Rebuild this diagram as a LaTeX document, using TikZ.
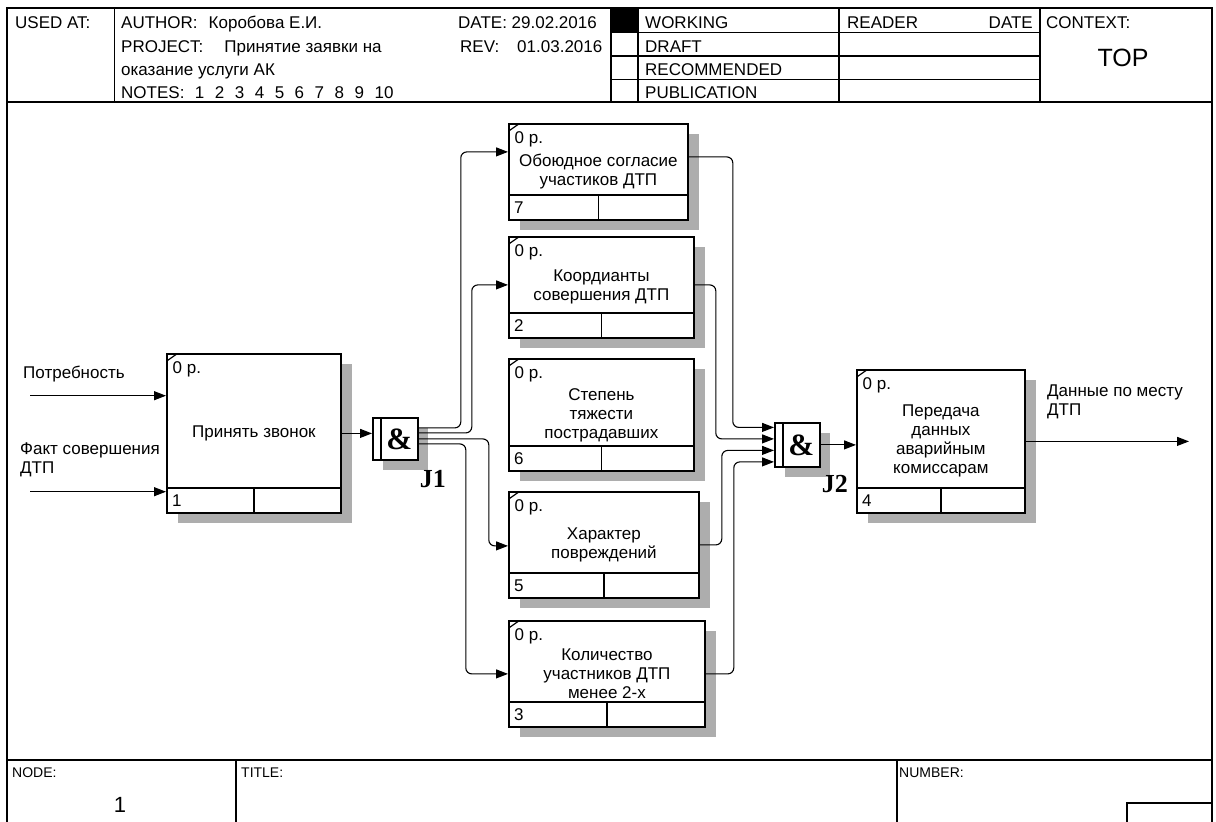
\documentclass[tikz,border=0pt]{standalone}
\usepackage{fontspec}
\setmainfont{Liberation Sans}
\newfontfamily\jfont{Liberation Serif}
\usetikzlibrary{arrows.meta,shadows}
\newcommand\boxtxt{\fontsize{17}{19}\selectfont}
\newcommand\ftrtxt{\fontsize{14}{16}\selectfont}

\begin{document}
\begin{tikzpicture}[
        x=1pt, y=-1pt,
        every node/.style={font=\boxtxt, inner sep=0pt},
        frame/.style={line width=1.3pt},
        hdr/.style={anchor=base west},
        ftr/.style={anchor=base west, font=\ftrtxt},
        act/.style={draw, line width=1.8pt, fill=white, anchor=north west, align=center,
            general shadow={fill=black!32, shadow xshift=11pt, shadow yshift=-10pt},
            path picture={
                \draw[line width=1.4pt] ([yshift=25pt]path picture bounding box.south west) -- ([yshift=25pt]path picture bounding box.south east)
                    ([yshift=25pt]path picture bounding box.south) -- (path picture bounding box.south);
                \draw[line width=1.2pt] ([yshift=-7pt]path picture bounding box.north west) -- ([xshift=10pt]path picture bounding box.north west);
            },
            label={[anchor=base west, xshift=6.5pt, yshift=-20pt]north west:0 р.},
            label={[anchor=base west, xshift=6pt, yshift=7pt]south west:#1}},
        junc/.style={draw, line width=1.8pt, fill=white, anchor=north west, minimum width=45pt,
            font=\jfont\bfseries\fontsize{31}{31}\selectfont,
            general shadow={fill=black!32, shadow xshift=10pt, shadow yshift=-10pt},
            path picture={\draw[line width=1.4pt] ([xshift=8pt]path picture bounding box.north west) -- ([xshift=8pt]path picture bounding box.south west);}},
        jname/.style={font=\jfont\bfseries\fontsize{26}{26}\selectfont},
        flow/.style={line width=1.1pt, rounded corners=6pt, -{Triangle[length=12pt,width=9pt]}}
    ]
    \useasboundingbox (0,0) rectangle (1216,822);

    % Frame
    \draw[frame] (7,822) -- (7,8) -- (1212,8) -- (1212,822);
    \draw[frame] (7,102) -- (1212,102);
    \draw[frame] (114.7,8) -- (114.7,102);
    \draw[frame] (611,8) -- (611,102);
    \draw[frame] (638,8) -- (638,102);
    \draw[frame] (839,8) -- (839,102);
    \draw[frame] (1040,8) -- (1040,102);
    \draw[frame] (611,32.3) -- (1040,32.3);
    \draw[frame] (611,56) -- (1040,56);
    \draw[frame] (611,79.3) -- (1040,79.3);
    \fill (611,8) rectangle (638,32.3);
    \draw[frame] (7,760) -- (1212,760);
    \draw[frame] (236,760) -- (236,822);
    \draw[frame] (897,760) -- (897,822);
    \draw[frame] (1127,822) -- (1127,803) -- (1212,803);

    % Header
    \node[hdr] (usedat) at (15,28) {USED AT:};
    \node[hdr] (author) at (121,28) {AUTHOR:\hspace{11pt}Коробова Е.И.};
    \node[hdr] (project) at (121,52) {PROJECT:\hspace{21pt}Принятие заявки на};
    \node[hdr] (project2) at (121,75) {оказание услуги АК};
    \node[hdr] (notes) at (121,98) {{\spaceskip=10.5pt NOTES: 1 2 3 4 5 6 7 8 9 10}};
    \node[hdr] (date) at (458,28) {DATE: 29.02.2016};
    \node[hdr] (rev) at (460,52) {REV:\hspace{18pt}01.03.2016};
    \node[hdr] (working) at (645,28) {WORKING};
    \node[hdr] (draft) at (645,52) {DRAFT};
    \node[hdr] (recommended) at (645,75) {RECOMMENDED};
    \node[hdr] (publication) at (645,98) {PUBLICATION};
    \node[hdr] (reader) at (847,28) {READER};
    \node[anchor=base east] (rdate) at (1033,28) {DATE};
    \node[hdr] (context) at (1046,28) {CONTEXT:};
    \node[anchor=base, font=\fontsize{25}{25}\selectfont] (top) at (1123,66) {TOP};

    % Footer
    \node[ftr] (nodelbl) at (12,777) {NODE:};
    \node[anchor=base, font=\fontsize{22}{22}\selectfont] (nodenum) at (120,812) {1};
    \node[ftr] (titlelbl) at (241,777) {TITLE:};
    \node[ftr] (numberlbl) at (899,777) {NUMBER:};

    % Nodes
    \node[act=1, minimum width=174pt, minimum height=159pt] (b1) at (166,353) {Принять звонок};
    \node[act=7, minimum width=179pt, minimum height=96pt] (b7) at (508,123) {Обоюдное согласие\\участиков ДТП};
    \node[act=2, minimum width=185pt, minimum height=101pt] (b2) at (508,236) {Коордианты\\совершения ДТП};
    \node[act=6, minimum width=185pt, minimum height=112pt] (b6) at (508,358) {Степень\\тяжести\\пострадавших};
    \node[act=5, minimum width=190pt, minimum height=106pt] (b5) at (508,491) {Характер\\повреждений};
    \node[act=3, minimum width=196pt, minimum height=106pt] (b3) at (508,620) {Количество\\участников ДТП\\менее 2-х};
    \node[act=4, minimum width=168pt, minimum height=143pt] (b4) at (856,369) {Передача\\данных\\аварийным\\комиссарам};

    \node[junc, minimum height=42pt] (j1) at (372,417) {\hspace{8pt}\&};
    \node[junc, minimum height=44pt] (j2) at (774,422) {\hspace{8pt}\&};
    \node[jname] (j1name) at ([xshift=14pt,yshift=-18pt]j1.south east) {J1};
    \node[jname] (j2name) at ([xshift=14pt,yshift=-16pt]j2.south east) {J2};

    \node[anchor=base west] (need) at (23,378) {Потребность};
    \node[anchor=north west, align=left] (fact) at (20,443) {Факт совершения\\ДТП};
    \node[anchor=north west, align=left] (result) at (1047,385) {Данные по месту\\ДТП};
    \coordinate (in1) at (30,395.7);
    \coordinate (in2) at (30,491.7);
    \coordinate (out1) at (1189,440);

    % Arrows
    \draw[flow] (in1) -- (in1 -| b1.west);
    \draw[flow] (in2) -- (in2 -| b1.west);
    \draw[flow] (b1.east) -- (b1.east -| j1.west);
    \draw[flow] ([yshift=11pt]j1.east) -- ++(42,0) |- ([yshift=20pt]b7.west);
    \draw[flow] ([yshift=6pt]j1.east) -- ++(53,0) |- ([yshift=2.5pt]b2.west);
    \draw[flow] (j1.east) -- ++(70,0) |- ([yshift=-1pt]b5.west);
    \draw[flow] ([yshift=-5pt]j1.east) -- ++(47,0) |- (b3.west);
    \draw[flow] ([yshift=15pt]b7.east) -- ++(44,0) |- ([yshift=17.5pt]j2.west);
    \draw[flow] ([yshift=2.5pt]b2.east) -- ++(21,0) |- ([yshift=6pt]j2.west);
    \draw[flow] (b5.east) -- ++(22,0) |- ([yshift=-5.5pt]j2.west);
    \draw[flow] (b3.east) -- ++(28,0) |- ([yshift=-17pt]j2.west);
    \draw[flow] (j2.east) -- (j2.east -| b4.west);
    \draw[flow] (b4.east) -- (b4.east -| out1);
\end{tikzpicture}
\end{document}
